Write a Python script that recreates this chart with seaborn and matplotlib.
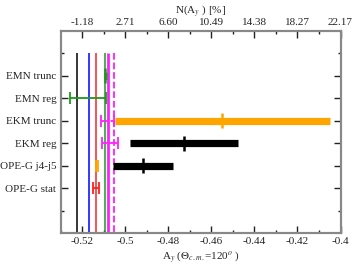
import matplotlib
matplotlib.use('Agg')
import matplotlib.pyplot as plt
import seaborn as sns

sns.set_theme(style='ticks')
plt.rcParams['font.family'] = ['Liberation Serif', 'DejaVu Serif']
plt.rcParams['mathtext.fontset'] = 'stix'

# categories on the y axis (top to bottom), positions 2..7
categories = ['EMN trunc', 'EMN reg', 'EKM trunc', 'EKM reg', 'OPE-G j4-j5', 'OPE-G stat']
cat_pos = [2, 3, 4, 5, 6, 7]

# vertical reference lines
vline_x = [-0.5223, -0.5166, -0.5135, -0.5092, -0.5081, -0.5053]
vline_colors = ['black', '#0000ff', '#ff2020', '#1a9a1a', '#ff20ff', '#ff20ff']
vline_styles = ['-', '-', '-', '-', '-', '--']
vline_widths = [1.1, 1.1, 1.1, 1.1, 2.0, 1.3]

# thick bands (low, high, centre)
band_y = [2, 4, 5, 6]
band_lo = [-0.5099, -0.5047, -0.4977, -0.5058]
band_hi = [-0.5085, -0.4048, -0.4477, -0.4776]
band_mid = [-0.5092, -0.4549, -0.4728, -0.4915]
band_colors = ['#1a9a1a', '#ffa500', 'black', 'black']

# thin error bars (centre, low, high)
err_y = [3, 4, 5, 6, 7]
err_mid = [-0.5090, -0.5080, -0.5070, -0.5130, -0.5134]
err_lo = [-0.5256, -0.5110, -0.5108, -0.5137, -0.5148]
err_hi = [-0.5090, -0.5050, -0.5032, -0.5124, -0.5120]
err_colors = ['#1a9a1a', '#ff20ff', '#ff20ff', '#ffa500', '#ff2020']
err_styles = ['-', '--', '-', '-', '-']

# top axis: N(A_y) labels at the bottom major ticks
bottom_ticks = [-0.52, -0.50, -0.48, -0.46, -0.44, -0.42, -0.40]
bottom_labels = ['-0.52', '-0.5', '-0.48', '-0.46', '-0.44', '-0.42', '-0.4']
top_labels = ['-1.18', '2.71', '6.60', '10.49', '14.38', '18.27', '22.17']

fs = 8

fig = plt.figure(figsize=(3.57, 2.68), dpi=100)
ax = fig.add_axes([0.1695, 0.1306, 0.7843, 0.7537])

for x, c, ls, lw in zip(vline_x, vline_colors, vline_styles, vline_widths):
    ax.vlines(x, 1, 9, colors=c, linestyles=ls, linewidth=lw, zorder=2)

for y, lo, hi, m, c in zip(band_y, band_lo, band_hi, band_mid, band_colors):
    ax.hlines(y, lo, hi, colors=c, linewidth=5.2, zorder=3)
    ax.vlines(m, y - 0.33, y + 0.33, colors=c, linewidth=1.8, zorder=3)

for y, m, lo, hi, c, ls in zip(err_y, err_mid, err_lo, err_hi, err_colors, err_styles):
    eb = ax.errorbar(m, y, xerr=[[m - lo], [hi - m]], fmt='none', ecolor=c,
                     elinewidth=1.3, capsize=4.5, capthick=1.3, zorder=4)
    for coll in eb[2]:
        coll.set_linestyle(ls)

ax.set_xlim(-0.53, -0.40)
ax.set_ylim(9, 0)
ax.set_xticks(bottom_ticks)
ax.set_xticklabels(bottom_labels)
ax.set_xticks([-0.53 + 0.01 * i for i in range(14)], minor=True)
ax.set_yticks(cat_pos)
ax.set_yticklabels(categories)
ax.set_yticks([1, 8], minor=True)
ax.tick_params(axis='both', which='both', direction='in', labelsize=fs,
               top=False, right=True, pad=3, color='#222222')
ax.tick_params(which='major', length=5, width=1)
ax.tick_params(which='minor', length=2.5, width=1)
ax.set_xlabel(r'A$_y$ ($\Theta_{c.m.}$=120$^o$ )', fontsize=fs, labelpad=2)
for s in ax.spines.values():
    s.set_color('#888888')
    s.set_linewidth(1.5)

ax2 = ax.twiny()
ax2.set_xlim(-0.53, -0.40)
ax2.set_xticks(bottom_ticks)
ax2.set_xticklabels(top_labels)
ax2.set_xticks([-0.51 + 0.02 * i for i in range(6)], minor=True)
ax2.tick_params(axis='x', which='both', direction='in', labelsize=fs, pad=3,
                color='#222222')
ax2.tick_params(which='major', length=5, width=1)
ax2.tick_params(which='minor', length=2.5, width=1)
ax2.set_xlabel(r'N(A$_y$ ) [%]', fontsize=fs, labelpad=3)
for s in ax2.spines.values():
    s.set_color('#888888')
    s.set_linewidth(1.5)

fig.savefig('out.png', dpi=100)
